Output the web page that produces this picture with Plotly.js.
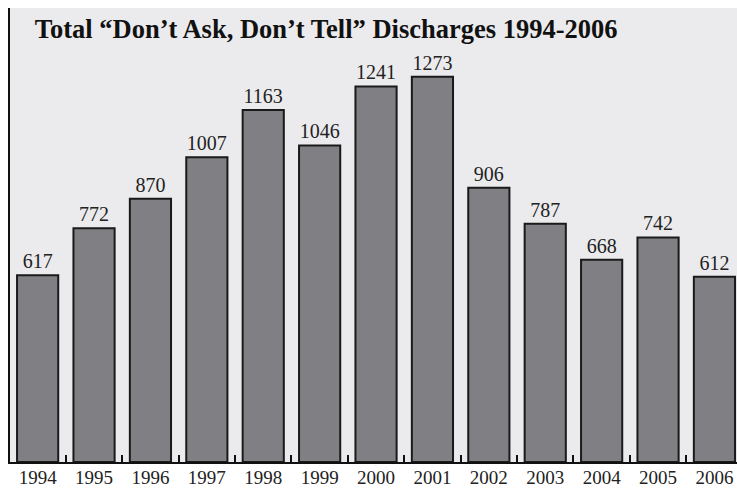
<!DOCTYPE html>
<html>
<head>
<meta charset="utf-8">
<script src="https://cdn.plot.ly/plotly-3.0.1.min.js"></script>
<style>html,body{margin:0;padding:0;background:#fff;}#chart{width:737px;height:490px;}</style>
</head>
<body>
<div id="chart"></div>
<script>
const years = ["1994","1995","1996","1997","1998","1999","2000","2001","2002","2003","2004","2005","2006"];
const discharges = [617, 772, 870, 1007, 1163, 1046, 1241, 1273, 906, 787, 668, 742, 612];
const chartTitle = "Total “Don’t Ask, Don’t Tell” Discharges 1994-2006";

const trace = {
  type: "bar",
  x: years,
  y: discharges,
  text: discharges.map(String),
  textposition: "outside",
  cliponaxis: false,
  textfont: {family: "Liberation Serif, serif", size: 20, color: "#222"},
  marker: {color: "#808084", line: {color: "#1a1a1a", width: 2}},
  width: 0.73,
  hoverinfo: "none"
};

const layout = {
  width: 737, height: 490,
  margin: {l: 10, r: 0, t: 8, b: 28},
  paper_bgcolor: "#ffffff",
  plot_bgcolor: "#ebebed",
  showlegend: false,
  title: {
    text: "<b>" + chartTitle + "</b>",
    font: {family: "Liberation Serif, serif", size: 26.5, color: "#111"},
    x: 0.034, xanchor: "left", xref: "paper",
    y: 0.941, yanchor: "middle", yref: "container"
  },
  xaxis: {
    type: "category",
    range: [-0.49, 12.4],
    showline: true, linecolor: "#111", linewidth: 2,
    ticks: "inside", tickson: "boundaries", ticklen: 7, tickwidth: 2, tickcolor: "#111",
    ticklabelstandoff: -3,
    tickfont: {family: "Liberation Serif, serif", size: 19, color: "#222"},
    showgrid: false, zeroline: false, fixedrange: true
  },
  yaxis: {
    range: [0, 1500],
    showline: true, linecolor: "#111", linewidth: 2.5,
    showticklabels: false, ticks: "", showgrid: false, zeroline: false, fixedrange: true
  }
};

Plotly.newPlot("chart", [trace], layout, {displayModeBar: false, staticPlot: true});
</script>
</body>
</html>
